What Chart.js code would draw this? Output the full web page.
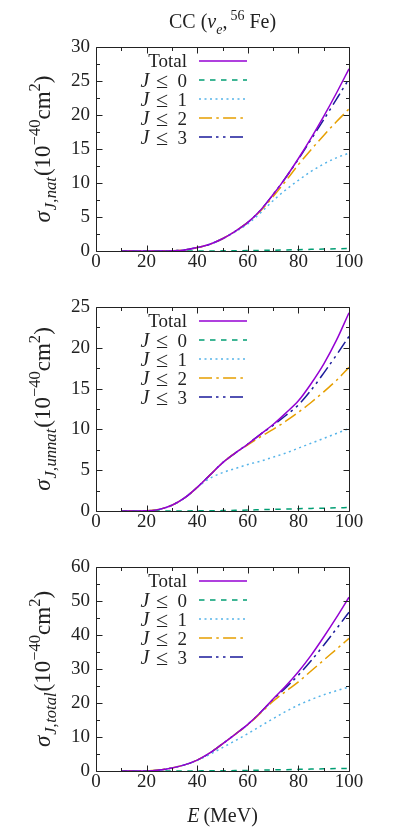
<!DOCTYPE html>
<html><head><meta charset="utf-8">
<script src="https://cdn.jsdelivr.net/npm/chart.js@4"></script>
<style>
html,body{margin:0;padding:0;background:#fff;}
body{width:394px;height:834px;position:relative;overflow:hidden;}
.p{position:absolute;left:0;width:394px;}
</style></head><body>
<div class="p" style="top:0;height:280px"><canvas id="c1"></canvas></div>
<div class="p" style="top:260px;height:280px"><canvas id="c2"></canvas></div>
<div class="p" style="top:520px;height:314px"><canvas id="c3"></canvas></div>
<script>
// ---- data (E in MeV, sigma in 1e-40 cm^2) ----
const energies = [10,15,20,25,30,35,40,45,50,55,60,65,70,75,80,85,90,95,100];

const natTotal = [0,0,0,0,0.03,0.15,0.5,1.0,1.8,2.9,4.2,6.0,8.3,10.8,13.6,16.6,19.8,23.2,26.8];
const natJ0    = [0,0,0,0,0,0,0,0.01,0.02,0.04,0.06,0.09,0.12,0.16,0.2,0.24,0.28,0.32,0.36];
const natJ1    = [0,0,0,0,0.03,0.15,0.5,1.0,1.8,2.8,4.0,5.6,7.4,9.0,10.4,11.7,12.8,13.7,14.4];
const natJ2    = [0,0,0,0,0.03,0.15,0.5,1.0,1.8,2.9,4.2,5.9,8.0,10.3,12.7,14.9,17.0,19.0,20.9];
const natJ3    = [0,0,0,0,0.03,0.15,0.5,1.0,1.8,2.9,4.2,6.0,8.3,10.8,13.5,16.4,19.3,22.3,25.3];

const unnatTotal = [0,0,0.02,0.2,0.7,1.6,2.9,4.4,5.9,7.1,8.2,9.4,10.6,12.0,13.5,15.6,18.0,20.9,24.3];
const unnatJ0    = [0,0,0,0,0,0.01,0.02,0.03,0.05,0.08,0.12,0.16,0.2,0.24,0.28,0.32,0.35,0.39,0.42];
const unnatJ1    = [0,0,0.02,0.2,0.7,1.6,2.9,4.0,4.7,5.2,5.7,6.1,6.6,7.1,7.7,8.3,8.9,9.5,10.1];
const unnatJ2    = [0,0,0.02,0.2,0.7,1.6,2.9,4.4,5.9,7.1,8.1,9.1,10.0,11.0,12.1,13.3,14.6,16.0,17.6];
const unnatJ3    = [0,0,0.02,0.2,0.7,1.6,2.9,4.4,5.9,7.1,8.2,9.4,10.5,11.7,13.0,14.8,16.9,19.1,21.4];

const totTotal = [0,0,0.02,0.3,0.9,1.8,3.2,5.3,8.0,10.8,13.7,17.2,21.2,25.0,29.2,34.0,39.4,45.1,51.1];
const totJ0    = [0,0,0,0,0,0.01,0.03,0.05,0.08,0.12,0.18,0.25,0.32,0.4,0.48,0.56,0.63,0.71,0.78];
const totJ1    = [0,0,0.02,0.3,0.9,1.8,3.1,4.9,6.9,8.9,11.0,13.2,15.4,17.5,19.4,21.0,22.4,23.6,24.7];
const totJ2    = [0,0,0.02,0.3,0.9,1.8,3.2,5.3,8.0,10.8,13.6,17.0,20.5,23.4,26.2,29.4,32.6,35.8,39.0];
const totJ3    = [0,0,0.02,0.3,0.9,1.8,3.2,5.3,8.0,10.8,13.7,17.2,21.0,24.5,28.2,32.4,37.0,41.8,46.7];

const seriesLabels = ['Total','0','1','2','3'];
const xTickStep = 20;
const yRanges = [{max:30, step:5}, {max:25, step:5}, {max:60, step:10}];
const yNames = ['nat','unnat','total'];

// ---- styles ----
const FONT = "'Liberation Serif','DejaVu Serif',serif";
const INK = '#222';
Chart.defaults.font.family = FONT;
const styles = [
  {color:'#9400D3', dash:[]},
  {color:'#009E73', dash:[5.5,5.5]},
  {color:'#56B4E9', dash:[2,3.5]},
  {color:'#E69F00', dash:[13,4.3,2.5,4.3]},
  {color:'#1a1a9a', dash:[13,4,2.5,4.5,2.5,4.5]}
];

function fontStr(size, italic){ return (italic?'italic ':'') + size + 'px ' + FONT; }
// segs: {t, i (italic), s ('sub'|'sup'), gap}
function drawRich(ctx, segs, x, y, base, align, subScale){
  const ss = subScale || 0.7;
  let total = 0;
  const m = segs.map(sg=>{
    const size = sg.s ? base*ss : (sg.size||base);
    ctx.font = fontStr(size, sg.i);
    const w = ctx.measureText(sg.t).width + (sg.gap||0);
    total += w;
    return {sg, size, w};
  });
  let cx = align==='center' ? x - total/2 : align==='right' ? x - total : x;
  ctx.textAlign = 'left'; ctx.textBaseline = 'alphabetic';
  m.forEach(({sg,size,w})=>{
    ctx.font = fontStr(size, sg.i);
    const dy = sg.s==='sub' ? base*0.28 : sg.s==='sup' ? -base*0.42 : 0;
    ctx.fillText(sg.t, cx, y + dy);
    cx += w;
  });
}

const decor = {
  id:'decor',
  afterDraw(chart, args, opts){
    const {ctx, chartArea:a, scales:{x,y}} = chart;
    ctx.save();
    ctx.strokeStyle = INK; ctx.lineWidth = 1; ctx.setLineDash([]);
    const L = Math.round(a.left)+0.5, R = Math.round(a.right)+0.5, T = Math.round(a.top)+0.5, B = Math.round(a.bottom)+0.5;
    ctx.beginPath();
    const xv = x.ticks.map(t=>t.value), yv = y.ticks.map(t=>t.value);
    const xm = [], ym = [];
    for(let i=0;i<xv.length-1;i++) xm.push((xv[i]+xv[i+1])/2);
    for(let i=0;i<yv.length-1;i++) ym.push((yv[i]+yv[i+1])/2);
    const tx = (vals,len)=>vals.forEach(v=>{const p=Math.round(x.getPixelForValue(v))+0.5; ctx.moveTo(p,B); ctx.lineTo(p,B-len); ctx.moveTo(p,T); ctx.lineTo(p,T+len);});
    const ty = (vals,len)=>vals.forEach(v=>{const p=Math.round(y.getPixelForValue(v))+0.5; ctx.moveTo(L,p); ctx.lineTo(L+len,p); ctx.moveTo(R,p); ctx.lineTo(R-len,p);});
    tx(xv,6); tx(xm,3.5); ty(yv,6); ty(ym,3.5);
    ctx.stroke();
    ctx.beginPath(); ctx.rect(L,T,R-L,B-T); ctx.stroke();

    // legend
    ctx.fillStyle = INK;
    chart.data.datasets.forEach((ds,i)=>{
      const ry = a.top + 14 + 19*i;
      if(i===0){
        drawRich(ctx,[{t:'Total'}], a.left+91, ry+6, 19, 'right');
      } else {
        ctx.textBaseline='alphabetic';
        ctx.font = fontStr(20,true); ctx.textAlign='center';
        ctx.fillText('J', a.left+49, ry+6.5);
        ctx.font = fontStr(22,false);
        ctx.fillText('\u2264', a.left+66, ry+7.5);
        ctx.font = fontStr(19,false); ctx.textAlign='right';
        ctx.fillText(seriesLabels[i], a.left+91, ry+6.5);
      }
      ctx.save();
      ctx.strokeStyle = ds.borderColor; ctx.lineWidth = 1.6; ctx.setLineDash(ds.borderDash||[]);
      ctx.beginPath(); ctx.moveTo(a.left+103, ry); ctx.lineTo(a.left+151, ry); ctx.stroke();
      ctx.restore();
    });

    // y axis title (rotated)
    ctx.save();
    ctx.translate(50, (a.top+a.bottom)/2);
    ctx.rotate(-Math.PI/2);
    ctx.fillStyle = INK;
    drawRich(ctx,[
      {t:'\u03C3', i:true, gap:1},
      {t:'J', i:true, s:'sub'},
      {t:',', s:'sub', gap:0.5},
      {t:opts.name, i:true, s:'sub', gap:1},
      {t:'(10'},
      {t:'\u221240', s:'sup'},
      {t:'cm'},
      {t:'2', s:'sup'},
      {t:')'}
    ], 0, 0, 23, 'center', 0.72);
    ctx.restore();

    if(opts.title){
      drawRich(ctx,[
        {t:'CC ('},
        {t:'\u03BD', i:true},
        {t:'e', i:true, s:'sub'},
        {t:', ', gap:-2},
        {t:'56', s:'sup'},
        {t:' Fe)'}
      ], (a.left+a.right)/2, 28, 20, 'center');
    }
    if(opts.xlabel){
      drawRich(ctx,[
        {t:'E', i:true, gap:4},
        {t:'(MeV)'}
      ], (a.left+a.right)/2, 302, 20, 'center');
    }
    ctx.restore();
  }
};

const panels = [
  {id:'c1', data:[natTotal,natJ0,natJ1,natJ2,natJ3], xh:29},
  {id:'c2', data:[unnatTotal,unnatJ0,unnatJ1,unnatJ2,unnatJ3], xh:29},
  {id:'c3', data:[totTotal,totJ0,totJ1,totJ2,totJ3], xh:63}
];

panels.forEach((p,k)=>{
  new Chart(document.getElementById(p.id), {
    type:'line',
    data:{
      datasets: p.data.map((arr,i)=>({
        label: seriesLabels[i],
        data: energies.map((e,j)=>({x:e, y:arr[j]})),
        borderColor: styles[i].color,
        borderDash: styles[i].dash,
        borderWidth: 1.5,
        pointRadius: 0,
        fill: false,
        cubicInterpolationMode: 'monotone'
      }))
    },
    options:{
      responsive:true, maintainAspectRatio:false, animation:false,
      layout:{padding:{top:47, right:45, left:0, bottom:0}},
      plugins:{legend:{display:false}, tooltip:{enabled:false},
        decor:{name:yNames[k], title:k===0, xlabel:k===2}},
      scales:{
        x:{type:'linear', min:0, max:100,
          grid:{display:false, drawTicks:false}, border:{display:false},
          ticks:{stepSize:xTickStep, color:INK, font:{family:FONT, size:19}, padding:0, maxRotation:0},
          afterFit:s=>{s.height=p.xh;}},
        y:{type:'linear', min:0, max:yRanges[k].max,
          grid:{display:false, drawTicks:false}, border:{display:false},
          ticks:{stepSize:yRanges[k].step, color:INK, font:{family:FONT, size:19}, padding:6},
          afterFit:s=>{s.width=96;}}
      }
    },
    plugins:[decor]
  });
});
</script>
</body></html>
